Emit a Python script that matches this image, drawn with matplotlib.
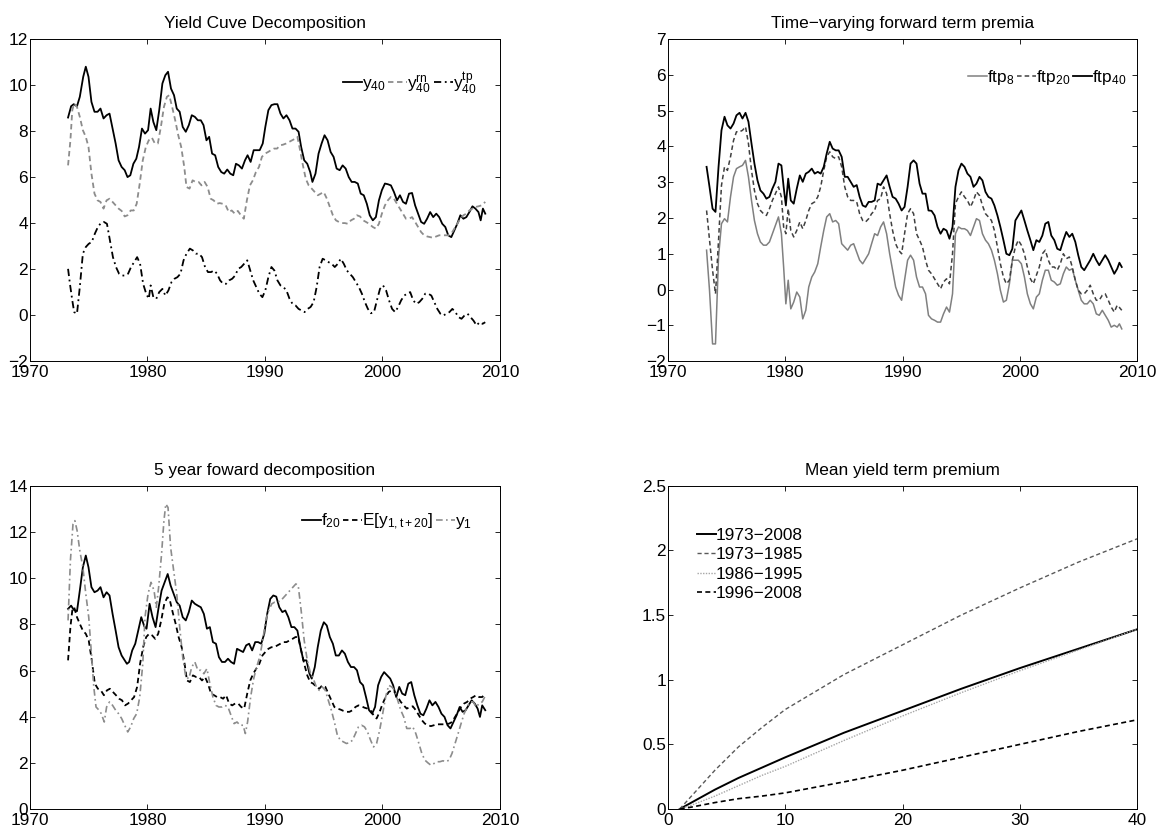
import matplotlib.pyplot as plt
from matplotlib.ticker import FormatStrFormatter, MultipleLocator

plt.rcParams['font.family'] = ['Liberation Sans', 'DejaVu Sans']
plt.rcParams['mathtext.fontset'] = 'custom'
plt.rcParams['mathtext.rm'] = 'Liberation Sans'
plt.rcParams['mathtext.it'] = 'Liberation Sans'
FS = 12.4
plt.rcParams['font.size'] = FS

# ---- panel 1: yield curve decomposition ----
y40_t = [1973.24, 1973.5, 1973.72, 1974.0, 1974.24, 1974.53, 1974.75, 1974.98, 1975.23, 1975.49, 1975.75, 1976.0,
         1976.26, 1976.52, 1976.77, 1977.03, 1977.29, 1977.54, 1977.8, 1978.06, 1978.3, 1978.54, 1978.8, 1979.05,
         1979.28, 1979.53, 1979.79, 1980.05, 1980.27, 1980.5, 1980.75, 1981.0, 1981.27, 1981.52, 1981.75, 1982.0,
         1982.26, 1982.49, 1982.74, 1983.0, 1983.26, 1983.52, 1983.77, 1984.03, 1984.29, 1984.54, 1984.77, 1985.02,
         1985.25, 1985.5, 1985.76, 1986.02, 1986.28, 1986.53, 1986.79, 1987.05, 1987.3, 1987.53, 1987.78, 1988.04,
         1988.3, 1988.52, 1988.78, 1989.04, 1989.29, 1989.55, 1989.81, 1990.03, 1990.29, 1990.55, 1990.8, 1991.06,
         1991.32, 1991.57, 1991.83, 1992.09, 1992.34, 1992.6, 1992.86, 1993.08, 1993.34, 1993.6, 1993.85, 1994.04,
         1994.3, 1994.56, 1994.82, 1995.07, 1995.33, 1995.59, 1995.84, 1996.1, 1996.36, 1996.61, 1996.87, 1997.13,
         1997.38, 1997.64, 1997.9, 1998.15, 1998.41, 1998.67, 1998.92, 1999.18, 1999.44, 1999.7, 1999.95, 2000.21,
         2000.46, 2000.72, 2000.98, 2001.24, 2001.49, 2001.75, 2002.0, 2002.26, 2002.52, 2002.78, 2003.03, 2003.29,
         2003.55, 2003.8, 2004.06, 2004.32, 2004.58, 2004.83, 2005.09, 2005.35, 2005.6, 2005.86, 2006.12, 2006.37,
         2006.63, 2006.89, 2007.14, 2007.4, 2007.66, 2007.91, 2008.17, 2008.36, 2008.55, 2008.75]
y40_v = [8.59, 9.08, 9.17, 9.08, 9.49, 10.36, 10.8, 10.36, 9.27, 8.84, 8.84, 8.98,
         8.55, 8.69, 8.76, 8.11, 7.46, 6.73, 6.44, 6.3, 6.0, 6.08, 6.58, 6.8,
         7.31, 8.11, 7.89, 8.04, 8.98, 8.4, 8.04, 8.91, 10.07, 10.43, 10.58, 9.85,
         9.56, 8.98, 8.84, 8.18, 7.97, 8.26, 8.69, 8.62, 8.47, 8.47, 8.26, 7.6,
         7.75, 7.02, 6.95, 6.44, 6.22, 6.15, 6.33, 6.15, 6.08, 6.58, 6.51, 6.37,
         6.73, 6.95, 6.66, 7.17, 7.17, 7.17, 7.46, 8.18, 8.91, 9.13, 9.17, 9.17,
         8.76, 8.55, 8.69, 8.47, 8.11, 8.11, 7.97, 7.31, 6.73, 6.58, 6.22, 5.79,
         6.15, 7.02, 7.46, 7.82, 7.6, 7.09, 6.88, 6.37, 6.3, 6.51, 6.37, 6.0,
         5.79, 5.79, 5.72, 5.28, 5.21, 4.84, 4.34, 4.12, 4.26, 4.99, 5.43, 5.72,
         5.69, 5.64, 5.35, 4.99, 5.21, 4.92, 4.84, 5.28, 5.31, 4.77, 4.41, 4.05,
         3.97, 4.19, 4.48, 4.26, 4.41, 4.26, 3.97, 3.83, 3.47, 3.39, 3.68, 3.97,
         4.34, 4.19, 4.26, 4.48, 4.73, 4.63, 4.48, 4.12, 4.63, 4.41]

yrn_t = [1973.24, 1973.44, 1973.6, 1973.76, 1974.0, 1974.24, 1974.5, 1974.75, 1974.98, 1975.23, 1975.49, 1975.75,
         1976.0, 1976.26, 1976.52, 1976.77, 1977.03, 1977.29, 1977.54, 1977.8, 1978.06, 1978.3, 1978.57, 1978.83,
         1979.08, 1979.34, 1979.6, 1979.86, 1980.11, 1980.37, 1980.63, 1980.88, 1981.14, 1981.4, 1981.65, 1981.85,
         1982.1, 1982.36, 1982.62, 1982.87, 1983.13, 1983.32, 1983.58, 1983.84, 1984.09, 1984.35, 1984.6, 1984.86,
         1985.12, 1985.38, 1985.63, 1985.89, 1986.15, 1986.4, 1986.66, 1986.92, 1987.17, 1987.43, 1987.69, 1987.95,
         1988.2, 1988.46, 1988.72, 1988.97, 1989.23, 1989.49, 1989.74, 1990.0, 1990.26, 1990.51, 1990.77, 1991.03,
         1991.28, 1991.54, 1991.8, 1992.05, 1992.31, 1992.57, 1992.76, 1992.99, 1993.2, 1993.47, 1993.72, 1993.98,
         1994.24, 1994.5, 1994.75, 1995.0, 1995.27, 1995.52, 1995.78, 1996.04, 1996.29, 1996.55, 1996.8, 1997.06,
         1997.32, 1997.58, 1997.83, 1998.09, 1998.35, 1998.6, 1998.86, 1999.18, 1999.44, 1999.7, 1999.95, 2000.21,
         2000.46, 2000.72, 2000.98, 2001.24, 2001.49, 2001.75, 2002.0, 2002.26, 2002.52, 2002.78, 2003.03, 2003.29,
         2003.55, 2003.8, 2004.06, 2004.32, 2004.58, 2004.83, 2005.09, 2005.35, 2005.6, 2005.86, 2006.12, 2006.37,
         2006.63, 2006.89, 2007.14, 2007.4, 2007.66, 2007.91, 2008.17, 2008.43, 2008.75]
yrn_v = [6.51, 7.6, 8.91, 9.2, 9.05, 8.62, 8.04, 7.75, 7.31, 6.15, 5.28, 4.99,
         4.92, 4.63, 4.99, 5.06, 4.92, 4.77, 4.63, 4.53, 4.29, 4.34, 4.55, 4.55,
         4.84, 5.72, 6.73, 7.31, 7.6, 7.72, 7.46, 7.46, 8.18, 9.05, 9.49, 9.56,
         9.05, 8.47, 7.82, 7.31, 6.44, 5.57, 5.5, 5.86, 5.79, 5.79, 5.64, 5.79,
         5.57, 5.06, 4.99, 4.84, 4.87, 4.84, 4.77, 4.48, 4.55, 4.41, 4.53, 4.34,
         4.19, 4.99, 5.64, 5.86, 6.22, 6.44, 6.88, 7.02, 7.09, 7.17, 7.24, 7.24,
         7.38, 7.41, 7.46, 7.53, 7.6, 7.67, 7.75, 7.17, 6.59, 5.93, 5.64, 5.5,
         5.35, 5.21, 5.28, 5.35, 5.06, 4.7, 4.34, 4.12, 4.05, 4.0, 4.0, 3.97,
         4.12, 4.19, 4.34, 4.29, 4.12, 4.05, 3.97, 3.83, 3.76, 3.97, 4.41, 4.77,
         4.99, 5.14, 5.06, 4.84, 4.63, 4.41, 4.19, 4.19, 4.26, 4.05, 3.83, 3.61,
         3.47, 3.42, 3.39, 3.36, 3.42, 3.47, 3.47, 3.47, 3.47, 3.54, 3.76, 3.97,
         4.19, 4.34, 4.41, 4.55, 4.63, 4.7, 4.73, 4.77, 4.92]

ytp_t = [1973.24, 1973.4, 1973.6, 1973.76, 1974.0, 1974.24, 1974.5, 1974.75, 1975.0, 1975.26, 1975.52, 1975.78,
         1976.03, 1976.29, 1976.55, 1976.8, 1977.06, 1977.32, 1977.58, 1977.83, 1978.09, 1978.35, 1978.6, 1978.86,
         1979.12, 1979.37, 1979.63, 1979.89, 1980.11, 1980.27, 1980.5, 1980.75, 1981.0, 1981.27, 1981.52, 1981.78,
         1982.04, 1982.3, 1982.55, 1982.81, 1983.07, 1983.32, 1983.61, 1983.87, 1984.13, 1984.38, 1984.64, 1984.9,
         1985.15, 1985.41, 1985.67, 1985.92, 1986.18, 1986.44, 1986.69, 1986.95, 1987.21, 1987.46, 1987.72, 1987.98,
         1988.23, 1988.49, 1988.75, 1989.0, 1989.26, 1989.52, 1989.78, 1990.03, 1990.29, 1990.55, 1990.8, 1991.06,
         1991.32, 1991.57, 1991.83, 1992.09, 1992.34, 1992.6, 1992.86, 1993.11, 1993.37, 1993.63, 1993.88, 1994.14,
         1994.4, 1994.65, 1994.91, 1995.17, 1995.42, 1995.68, 1995.94, 1996.2, 1996.45, 1996.71, 1996.97, 1997.22,
         1997.48, 1997.74, 1997.99, 1998.25, 1998.51, 1998.76, 1999.02, 1999.28, 1999.53, 1999.79, 2000.05, 2000.31,
         2000.56, 2000.82, 2001.08, 2001.33, 2001.59, 2001.85, 2002.1, 2002.36, 2002.62, 2002.87, 2003.13, 2003.39,
         2003.64, 2003.9, 2004.16, 2004.41, 2004.67, 2004.93, 2005.18, 2005.44, 2005.7, 2005.95, 2006.21, 2006.47,
         2006.73, 2006.98, 2007.24, 2007.5, 2007.75, 2008.01, 2008.27, 2008.52, 2008.75]
ytp_v = [2.01, 1.36, 0.64, 0.13, 0.06, 1.22, 2.67, 2.96, 3.1, 3.18, 3.54, 3.83,
         4.0, 4.05, 3.97, 3.25, 2.52, 2.09, 1.8, 1.72, 1.72, 1.8, 2.09, 2.3,
         2.52, 2.23, 1.36, 0.93, 0.71, 1.29, 0.78, 0.71, 1.0, 1.14, 0.85, 1.07,
         1.43, 1.58, 1.65, 1.8, 2.38, 2.67, 2.89, 2.81, 2.67, 2.67, 2.52, 2.09,
         1.87, 1.87, 1.94, 1.8, 1.51, 1.36, 1.36, 1.51, 1.58, 1.72, 2.01, 2.09,
         2.23, 2.38, 1.94, 1.51, 1.22, 0.93, 0.78, 1.07, 1.65, 2.09, 1.94, 1.51,
         1.29, 1.22, 1.07, 0.71, 0.49, 0.42, 0.27, 0.2, 0.13, 0.27, 0.35, 0.56,
         1.22, 2.09, 2.45, 2.38, 2.3, 2.23, 2.09, 2.23, 2.45, 2.23, 1.94, 1.8,
         1.65, 1.43, 1.22, 0.93, 0.56, 0.27, 0.08, 0.13, 0.64, 1.14, 1.29, 1.07,
         0.64, 0.27, 0.13, 0.35, 0.64, 0.85, 0.93, 1.0, 0.64, 0.49, 0.56, 0.71,
         0.93, 0.93, 0.85, 0.56, 0.27, 0.06, -0.02, 0.06, 0.13, 0.27, 0.13, -0.09,
         -0.16, -0.02, 0.06, -0.09, -0.24, -0.45, -0.31, -0.38, -0.31]

# ---- panel 2: forward term premia ----
ftp_t = [1973.29, 1973.54, 1973.8, 1974.05, 1974.31, 1974.56, 1974.82, 1975.07, 1975.33, 1975.59, 1975.84, 1976.1,
         1976.35, 1976.61, 1976.86, 1977.12, 1977.37, 1977.63, 1977.88, 1978.14, 1978.39, 1978.65, 1978.9, 1979.16,
         1979.42, 1979.67, 1979.86, 1980.05, 1980.25, 1980.47, 1980.72, 1980.98, 1981.24, 1981.49, 1981.75, 1982.0,
         1982.26, 1982.51, 1982.77, 1983.02, 1983.28, 1983.53, 1983.79, 1984.04, 1984.3, 1984.55, 1984.81, 1985.07,
         1985.32, 1985.58, 1985.83, 1986.09, 1986.34, 1986.6, 1986.85, 1987.11, 1987.36, 1987.62, 1987.87, 1988.13,
         1988.38, 1988.64, 1988.9, 1989.15, 1989.41, 1989.66, 1989.92, 1990.17, 1990.43, 1990.68, 1990.94, 1991.19,
         1991.45, 1991.7, 1991.96, 1992.21, 1992.47, 1992.73, 1992.98, 1993.24, 1993.49, 1993.75, 1994.0, 1994.26,
         1994.51, 1994.77, 1995.02, 1995.28, 1995.53, 1995.79, 1996.05, 1996.3, 1996.56, 1996.81, 1997.07, 1997.32,
         1997.58, 1997.83, 1998.09, 1998.34, 1998.6, 1998.85, 1999.11, 1999.36, 1999.62, 1999.87, 2000.13, 2000.39,
         2000.64, 2000.9, 2001.15, 2001.41, 2001.66, 2001.92, 2002.17, 2002.43, 2002.68, 2002.94, 2003.19, 2003.45,
         2003.71, 2003.96, 2004.22, 2004.47, 2004.73, 2004.98, 2005.24, 2005.49, 2005.75, 2006.0, 2006.26, 2006.52,
         2006.77, 2007.03, 2007.28, 2007.54, 2007.79, 2008.05, 2008.3, 2008.49, 2008.69]
ftp8_v = [1.10, -0.02, -1.52, -1.52, 0.91, 1.84, 1.98, 1.89, 2.59, 3.15, 3.38, 3.43,
          3.47, 3.61, 3.15, 2.49, 1.93, 1.56, 1.33, 1.24, 1.24, 1.33, 1.56, 1.79,
          2.03, 1.56, 0.63, -0.40, 0.26, -0.54, -0.35, -0.07, -0.21, -0.82, -0.58, 0.07,
          0.35, 0.49, 0.72, 1.19, 1.65, 2.03, 2.12, 1.89, 1.93, 1.84, 1.28, 1.19,
          1.10, 1.24, 1.28, 1.05, 0.82, 0.72, 0.86, 1.0, 1.28, 1.56, 1.51, 1.75,
          1.89, 1.56, 1.0, 0.54, 0.07, -0.16, -0.30, 0.26, 0.82, 0.96, 0.82, 0.35,
          0.07, 0.07, -0.12, -0.72, -0.82, -0.86, -0.91, -0.91, -0.68, -0.49, -0.63, -0.12,
          1.56, 1.75, 1.70, 1.70, 1.65, 1.51, 1.75, 1.98, 1.93, 1.56, 1.38, 1.28,
          1.10, 0.82, 0.44, -0.02, -0.35, -0.30, 0.16, 0.82, 0.82, 0.82, 0.72, 0.35,
          -0.12, -0.40, -0.54, -0.21, -0.12, 0.26, 0.54, 0.54, 0.26, 0.21, 0.12, 0.16,
          0.44, 0.63, 0.54, 0.58, 0.26, -0.02, -0.30, -0.40, -0.40, -0.30, -0.40, -0.68,
          -0.72, -0.58, -0.72, -0.86, -1.05, -1.0, -1.05, -0.96, -1.10]
ftp20_v = [2.21, 1.38, 0.54, -0.12, 1.38, 2.91, 3.43, 3.33, 3.71, 4.17, 4.41, 4.41,
           4.45, 4.55, 4.08, 3.33, 2.77, 2.40, 2.21, 2.12, 2.07, 2.26, 2.49, 2.68,
           2.87, 2.59, 1.75, 1.56, 2.26, 1.65, 1.47, 1.65, 1.89, 1.70, 1.93, 2.21,
           2.40, 2.45, 2.59, 2.87, 3.33, 3.71, 3.85, 3.71, 3.66, 3.71, 3.43, 2.87,
           2.59, 2.49, 2.49, 2.45, 2.12, 1.93, 1.89, 1.98, 2.12, 2.21, 2.49, 2.54,
           2.87, 2.68, 2.12, 1.65, 1.28, 1.10, 1.0, 1.56, 2.12, 2.26, 2.12, 1.56,
           1.38, 1.19, 0.82, 0.54, 0.44, 0.30, 0.16, 0.02, 0.21, 0.30, 0.16, 1.0,
           2.40, 2.59, 2.73, 2.59, 2.49, 2.31, 2.49, 2.73, 2.63, 2.35, 2.12, 2.03,
           1.93, 1.65, 1.19, 0.72, 0.35, 0.16, 0.26, 0.82, 1.19, 1.38, 1.24, 1.0,
           0.63, 0.30, 0.16, 0.40, 0.63, 1.0, 1.10, 0.82, 0.63, 0.63, 0.54, 0.72,
           1.0, 0.86, 0.91, 0.63, 0.26, -0.02, -0.12, -0.12, -0.02, 0.12, -0.12, -0.30,
           -0.30, -0.16, -0.12, -0.30, -0.49, -0.63, -0.44, -0.50, -0.58]
ftp40_v = [3.43, 2.87, 2.26, 2.17, 3.43, 4.45, 4.83, 4.59, 4.50, 4.64, 4.87, 4.94,
           4.78, 4.94, 4.69, 4.08, 3.52, 3.05, 2.77, 2.68, 2.54, 2.59, 2.82, 3.01,
           3.52, 3.47, 2.87, 2.35, 3.10, 2.49, 2.40, 2.82, 3.19, 3.01, 3.24, 3.29,
           3.38, 3.24, 3.29, 3.24, 3.43, 3.80, 4.13, 3.94, 3.89, 3.89, 3.71, 3.15,
           3.15, 3.01, 2.87, 2.92, 2.59, 2.35, 2.31, 2.45, 2.45, 2.49, 2.96, 2.92,
           3.05, 3.19, 2.87, 2.59, 2.54, 2.40, 2.21, 2.31, 2.87, 3.52, 3.61, 3.52,
           2.96, 2.68, 2.68, 2.21, 2.20, 2.07, 1.75, 1.56, 1.70, 1.65, 1.42, 1.75,
           2.87, 3.33, 3.52, 3.43, 3.24, 3.15, 2.87, 2.96, 3.15, 3.05, 2.73, 2.59,
           2.54, 2.35, 2.07, 1.75, 1.38, 1.0, 0.96, 1.14, 1.93, 2.07, 2.21, 1.93,
           1.65, 1.38, 1.10, 1.38, 1.33, 1.51, 1.84, 1.89, 1.51, 1.38, 1.14, 1.10,
           1.38, 1.61, 1.47, 1.56, 1.33, 0.96, 0.63, 0.54, 0.68, 0.82, 1.0, 0.82,
           0.68, 0.82, 0.96, 0.82, 0.63, 0.44, 0.58, 0.75, 0.63]

# ---- panel 3: 5 year forward decomposition ----
f20_t = [1973.24, 1973.5, 1973.72, 1974.0, 1974.24, 1974.5, 1974.75, 1974.98, 1975.23, 1975.49, 1975.75, 1976.0,
         1976.26, 1976.52, 1976.77, 1977.03, 1977.29, 1977.54, 1977.8, 1978.06, 1978.25, 1978.44, 1978.7, 1978.96,
         1979.21, 1979.47, 1979.73, 1979.92, 1980.18, 1980.43, 1980.69, 1980.95, 1981.2, 1981.46, 1981.72, 1981.97,
         1982.23, 1982.49, 1982.74, 1983.0, 1983.26, 1983.52, 1983.77, 1984.03, 1984.29, 1984.54, 1984.8, 1985.06,
         1985.31, 1985.57, 1985.83, 1986.08, 1986.34, 1986.6, 1986.85, 1987.11, 1987.37, 1987.62, 1987.88, 1988.14,
         1988.4, 1988.65, 1988.91, 1989.17, 1989.42, 1989.68, 1989.94, 1990.19, 1990.45, 1990.71, 1990.96, 1991.22,
         1991.48, 1991.73, 1991.99, 1992.25, 1992.5, 1992.76, 1993.02, 1993.27, 1993.53, 1993.79, 1993.98, 1994.24,
         1994.49, 1994.75, 1995.01, 1995.26, 1995.52, 1995.78, 1996.03, 1996.29, 1996.55, 1996.8, 1997.06, 1997.32,
         1997.58, 1997.83, 1998.09, 1998.35, 1998.6, 1998.86, 1999.12, 1999.37, 1999.63, 1999.89, 2000.14, 2000.4,
         2000.66, 2000.91, 2001.17, 2001.43, 2001.68, 2001.94, 2002.2, 2002.45, 2002.71, 2002.97, 2003.23, 2003.48,
         2003.74, 2004.0, 2004.25, 2004.51, 2004.77, 2005.02, 2005.28, 2005.54, 2005.79, 2006.05, 2006.31, 2006.57,
         2006.82, 2007.08, 2007.33, 2007.59, 2007.85, 2008.1, 2008.3, 2008.49, 2008.75]
f20_v = [8.67, 8.81, 8.63, 8.57, 9.46, 10.47, 10.98, 10.47, 9.61, 9.39, 9.46, 9.61,
         9.17, 9.39, 9.25, 8.45, 7.73, 7.01, 6.65, 6.44, 6.29, 6.37, 6.87, 7.16,
         7.73, 8.31, 7.91, 7.81, 8.89, 8.31, 7.88, 8.74, 9.46, 9.82, 10.18, 9.68,
         9.32, 8.96, 8.81, 8.31, 8.17, 8.53, 9.03, 8.89, 8.81, 8.74, 8.45, 7.81,
         7.88, 7.23, 7.16, 6.58, 6.37, 6.37, 6.51, 6.37, 6.29, 6.94, 6.87, 6.80,
         7.09, 7.16, 6.87, 7.23, 7.23, 7.16, 7.59, 8.45, 9.10, 9.25, 9.20, 8.74,
         8.53, 8.60, 8.31, 7.88, 7.88, 7.73, 7.01, 6.44, 6.44, 5.86, 5.65, 6.15,
         7.01, 7.73, 8.09, 7.95, 7.45, 7.16, 6.65, 6.65, 6.87, 6.73, 6.37, 6.15,
         6.15, 6.01, 5.50, 5.36, 4.85, 4.28, 4.13, 4.42, 5.36, 5.72, 5.93, 5.79,
         5.65, 5.36, 4.85, 5.29, 5.0, 4.93, 5.43, 5.50, 4.93, 4.49, 4.13, 4.06,
         4.35, 4.71, 4.49, 4.64, 4.42, 4.13, 3.99, 3.63, 3.49, 3.77, 4.06, 4.42,
         4.21, 4.28, 4.49, 4.71, 4.57, 4.35, 3.99, 4.49, 4.28]

ey_t = [1973.24, 1973.44, 1973.6, 1973.76, 1974.0, 1974.24, 1974.5, 1974.75, 1975.0, 1975.26, 1975.52, 1975.78,
        1976.03, 1976.29, 1976.55, 1976.8, 1977.06, 1977.32, 1977.58, 1977.83, 1978.09, 1978.35, 1978.6, 1978.86,
        1979.12, 1979.37, 1979.63, 1979.89, 1980.14, 1980.4, 1980.66, 1980.91, 1981.17, 1981.43, 1981.69, 1981.88,
        1982.14, 1982.4, 1982.65, 1982.91, 1983.16, 1983.36, 1983.61, 1983.87, 1984.13, 1984.38, 1984.64, 1984.9,
        1985.15, 1985.41, 1985.67, 1985.92, 1986.18, 1986.44, 1986.69, 1986.95, 1987.21, 1987.46, 1987.72, 1987.98,
        1988.23, 1988.49, 1988.75, 1989.0, 1989.26, 1989.52, 1989.78, 1990.03, 1990.29, 1990.55, 1990.8, 1991.06,
        1991.32, 1991.57, 1991.83, 1992.09, 1992.34, 1992.6, 1992.82, 1993.08, 1993.34, 1993.6, 1993.85, 1994.11,
        1994.37, 1994.62, 1994.88, 1995.14, 1995.39, 1995.65, 1995.91, 1996.16, 1996.42, 1996.68, 1996.93, 1997.19,
        1997.45, 1997.7, 1997.96, 1998.22, 1998.47, 1998.73, 1998.99, 1999.24, 1999.5, 1999.76, 2000.02, 2000.27,
        2000.53, 2000.79, 2001.04, 2001.3, 2001.56, 2001.81, 2002.07, 2002.33, 2002.58, 2002.84, 2003.1, 2003.35,
        2003.61, 2003.87, 2004.12, 2004.38, 2004.64, 2004.89, 2005.15, 2005.41, 2005.67, 2005.92, 2006.18, 2006.44,
        2006.69, 2006.95, 2007.21, 2007.46, 2007.72, 2007.98, 2008.23, 2008.49, 2008.75]
ey_v = [6.44, 7.88, 8.60, 8.74, 8.31, 8.02, 7.73, 7.59, 7.30, 6.44, 5.43, 5.21,
        5.14, 4.93, 5.14, 5.21, 5.07, 4.93, 4.78, 4.71, 4.49, 4.57, 4.71, 4.85,
        5.29, 6.29, 7.01, 7.45, 7.59, 7.52, 7.37, 7.59, 8.17, 8.89, 9.17, 9.10,
        8.53, 8.02, 7.45, 7.01, 6.29, 5.57, 5.50, 5.79, 5.72, 5.72, 5.57, 5.72,
        5.43, 5.0, 4.93, 4.85, 4.85, 4.78, 4.93, 4.57, 4.49, 4.57, 4.57, 4.42,
        4.35, 5.0, 5.57, 5.86, 6.08, 6.29, 6.65, 6.80, 6.94, 7.01, 7.01, 7.09,
        7.16, 7.23, 7.23, 7.30, 7.37, 7.45, 7.45, 6.87, 6.29, 5.79, 5.50, 5.43,
        5.29, 5.21, 5.36, 5.29, 5.0, 4.71, 4.42, 4.35, 4.31, 4.25, 4.21, 4.21,
        4.28, 4.42, 4.49, 4.45, 4.39, 4.35, 4.28, 4.06, 3.92, 4.21, 4.57, 4.85,
        5.07, 5.14, 5.07, 4.85, 4.64, 4.49, 4.35, 4.42, 4.45, 4.28, 4.06, 3.85,
        3.70, 3.63, 3.59, 3.63, 3.67, 3.67, 3.67, 3.67, 3.70, 3.77, 3.99, 4.21,
        4.42, 4.57, 4.64, 4.78, 4.85, 4.93, 4.85, 4.85, 5.0]

y1_t = [1973.24, 1973.44, 1973.66, 1973.82, 1974.01, 1974.24, 1974.5, 1974.75, 1975.0, 1975.23, 1975.43, 1975.62,
        1975.88, 1976.07, 1976.32, 1976.52, 1976.77, 1977.03, 1977.29, 1977.54, 1977.8, 1978.06, 1978.32, 1978.57,
        1978.83, 1979.08, 1979.34, 1979.6, 1979.79, 1980.05, 1980.3, 1980.56, 1980.75, 1980.95, 1981.2, 1981.4,
        1981.56, 1981.75, 1981.97, 1982.23, 1982.49, 1982.74, 1983.0, 1983.26, 1983.52, 1983.77, 1984.03, 1984.29,
        1984.54, 1984.8, 1985.06, 1985.31, 1985.57, 1985.83, 1986.08, 1986.34, 1986.6, 1986.85, 1987.11, 1987.37,
        1987.62, 1987.88, 1988.14, 1988.33, 1988.52, 1988.78, 1989.04, 1989.29, 1989.55, 1989.81, 1990.06, 1990.32,
        1990.58, 1990.83, 1991.09, 1991.35, 1991.6, 1991.86, 1992.12, 1992.38, 1992.63, 1992.83, 1993.08, 1993.34,
        1993.6, 1993.85, 1994.11, 1994.37, 1994.62, 1994.88, 1995.14, 1995.39, 1995.65, 1995.91, 1996.16, 1996.42,
        1996.68, 1996.93, 1997.19, 1997.45, 1997.7, 1997.96, 1998.22, 1998.47, 1998.73, 1998.99, 1999.24, 1999.5,
        1999.76, 2000.02, 2000.27, 2000.53, 2000.79, 2001.04, 2001.3, 2001.56, 2001.81, 2002.07, 2002.33, 2002.58,
        2002.84, 2003.1, 2003.35, 2003.61, 2003.87, 2004.12, 2004.38, 2004.64, 2004.89, 2005.15, 2005.41, 2005.67,
        2005.92, 2006.18, 2006.44, 2006.69, 2006.95, 2007.21, 2007.46, 2007.72, 2007.98, 2008.23, 2008.49, 2008.75]
y1_v = [8.17, 10.76, 12.34, 12.49, 12.06, 11.19, 10.47, 9.32, 8.31, 6.73, 5.29, 4.42,
        4.28, 4.13, 3.77, 4.42, 4.64, 4.49, 4.28, 4.13, 3.92, 3.63, 3.34, 3.56,
        3.92, 4.13, 4.85, 6.29, 8.31, 9.32, 9.82, 9.46, 8.74, 9.61, 11.05, 12.49,
        13.21, 13.06, 11.33, 10.33, 9.32, 7.88, 6.58, 5.72, 5.65, 6.15, 6.37, 6.01,
        6.01, 5.86, 6.08, 5.43, 4.85, 4.49, 4.42, 4.42, 4.49, 4.42, 4.06, 3.70,
        3.77, 3.63, 3.63, 3.27, 3.77, 4.85, 5.65, 6.15, 6.58, 7.30, 8.17, 8.60,
        8.89, 8.96, 8.96, 9.03, 9.17, 9.32, 9.46, 9.61, 9.75, 9.68, 8.60, 7.30,
        6.44, 5.93, 5.65, 5.29, 5.14, 5.29, 5.14, 4.71, 4.28, 3.77, 3.20, 2.98,
        2.91, 2.84, 2.87, 2.98, 3.27, 3.56, 3.63, 3.56, 3.34, 2.98, 2.69, 2.84,
        3.41, 4.13, 4.85, 5.36, 5.29, 5.14, 4.71, 4.28, 3.99, 3.49, 3.49, 3.56,
        3.27, 2.84, 2.41, 2.12, 2.0, 1.90, 1.97, 2.05, 2.05, 2.09, 2.05, 2.12,
        2.41, 2.84, 3.27, 3.70, 4.13, 4.42, 4.64, 4.64, 4.42, 4.57, 4.64, 4.90]

# ---- panel 4: mean yield term premium by maturity ----
mats = [1, 2, 4, 6, 8, 10, 15, 20, 25, 30, 35, 40]
tp_7308 = [0.0, 0.05, 0.15, 0.24, 0.32, 0.40, 0.59, 0.76, 0.93, 1.09, 1.24, 1.39]
tp_7385 = [0.0, 0.10, 0.30, 0.48, 0.63, 0.77, 1.04, 1.27, 1.50, 1.71, 1.91, 2.09]
tp_8695 = [0.0, 0.03, 0.10, 0.18, 0.26, 0.33, 0.53, 0.72, 0.90, 1.07, 1.23, 1.39]
tp_9608 = [0.0, 0.015, 0.05, 0.08, 0.10, 0.125, 0.21, 0.30, 0.40, 0.50, 0.60, 0.69]


def style(ax, title):
    ax.set_title(title, fontsize=FS, pad=8)
    ax.tick_params(direction='in', length=3.5, width=0.6, top=True, right=True,
                   labelsize=FS, pad=1.5)
    ax.tick_params(axis='x', pad=3)
    for s in ax.spines.values():
        s.set_linewidth(0.7)


def legend_row(ax, anchor):
    ax.legend(loc='center right', bbox_to_anchor=anchor, ncol=3, frameon=False,
              handlelength=1.1, handletextpad=0.0, columnspacing=0.15,
              borderpad=0, borderaxespad=0, fontsize=FS)


fig = plt.figure(figsize=(11.67, 8.32), dpi=100)
ax1 = fig.add_axes([0.0257, 0.566, 0.4027, 0.387])
ax2 = fig.add_axes([0.5724, 0.566, 0.402, 0.387])
ax3 = fig.add_axes([0.0257, 0.0276, 0.4027, 0.3885])
ax4 = fig.add_axes([0.5724, 0.0276, 0.402, 0.3885])

# panel 1
ax1.plot(y40_t, y40_v, color='k', lw=1.3, label=r'$\mathregular{y_{40}}$')
ax1.plot(yrn_t, yrn_v, color='0.55', lw=1.3, ls=(0, (3, 2)), label=r'$\mathregular{y_{40}^{rn}}$')
ax1.plot(ytp_t, ytp_v, color='k', lw=1.3, ls=(0, (4, 2, 1, 2)), label=r'$\mathregular{y_{40}^{tp}}$')
ax1.set_xlim(1970, 2010)
ax1.set_ylim(-2, 12)
ax1.xaxis.set_major_locator(MultipleLocator(10))
ax1.yaxis.set_major_locator(MultipleLocator(2))
style(ax1, 'Yield Cuve Decomposition')
legend_row(ax1, (0.95, 0.865))

# panel 2
ax2.plot(ftp_t, ftp8_v, color='0.5', lw=1.1, label=r'$\mathregular{ftp_{8}}$')
ax2.plot(ftp_t, ftp20_v, color='0.25', lw=1.1, ls=(0, (3, 2)), label=r'$\mathregular{ftp_{20}}$')
ax2.plot(ftp_t, ftp40_v, color='k', lw=1.3, label=r'$\mathregular{ftp_{40}}$')
ax2.set_xlim(1970, 2010)
ax2.set_ylim(-2, 7)
ax2.xaxis.set_major_locator(MultipleLocator(10))
ax2.yaxis.set_major_locator(MultipleLocator(1))
style(ax2, 'Time\u2212varying forward term premia')
legend_row(ax2, (0.977, 0.882))

# panel 3
ax3.plot(f20_t, f20_v, color='k', lw=1.3, label=r'$\mathregular{f_{20}}$')
ax3.plot(ey_t, ey_v, color='k', lw=1.3, ls=(0, (3, 2)), label=r'$\mathregular{E[y_{1,t+20}]}$')
ax3.plot(y1_t, y1_v, color='0.55', lw=1.2, ls=(0, (4, 2, 1, 2)), label=r'$\mathregular{y_{1}}$')
ax3.set_xlim(1970, 2010)
ax3.set_ylim(0, 14)
ax3.xaxis.set_major_locator(MultipleLocator(10))
ax3.yaxis.set_major_locator(MultipleLocator(2))
style(ax3, '5 year foward decomposition')
legend_row(ax3, (0.94, 0.889))

# panel 4
ax4.plot(mats, tp_7308, color='k', lw=1.4, label='1973\u22122008')
ax4.plot(mats, tp_7385, color='0.35', lw=1.0, ls=(0, (3, 2)), label='1973\u22121985')
ax4.plot(mats, tp_8695, color='0.65', lw=1.0, ls=(0, (1, 1)), label='1986\u22121995')
ax4.plot(mats, tp_9608, color='k', lw=1.2, ls=(0, (3, 2)), label='1996\u22122008')
ax4.set_xlim(0, 40)
ax4.set_ylim(0, 2.5)
ax4.xaxis.set_major_locator(MultipleLocator(10))
ax4.yaxis.set_major_locator(MultipleLocator(0.5))
ax4.yaxis.set_major_formatter(FormatStrFormatter('%g'))
style(ax4, 'Mean yield term premium')
ax4.legend(loc='upper left', bbox_to_anchor=(0.062, 0.87), frameon=False,
           handlelength=1.1, handletextpad=0.0, labelspacing=0.25,
           borderpad=0, borderaxespad=0, fontsize=FS)

fig.savefig('out.png', dpi=100)
